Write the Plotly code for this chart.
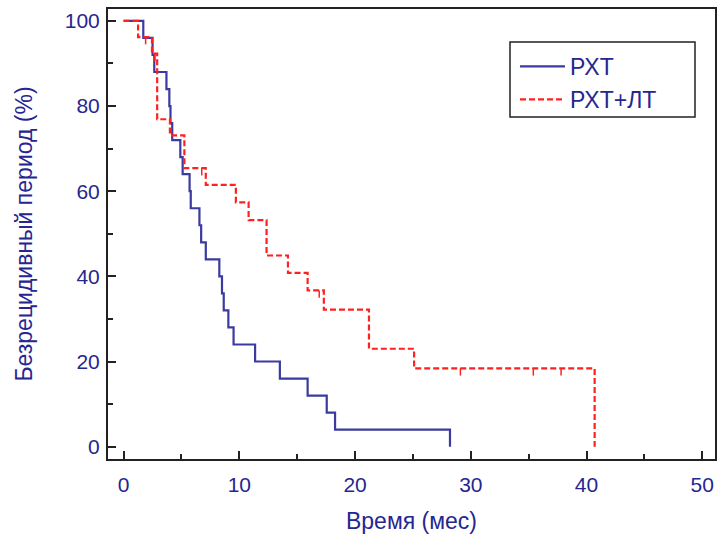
import plotly.graph_objects as go

# ---- data ----
rxt_time = [0, 1.7, 2.5, 2.65, 3.7, 3.95, 4.05, 4.2, 4.9, 5.1, 5.7, 5.8, 6.55, 6.7, 7.1,
            8.27, 8.5, 8.65, 9.05, 9.5, 11.36, 13.5, 15.9, 17.55, 18.27, 28.2]
rxt_surv = [100, 96, 92, 88, 84, 80, 76, 72, 68, 64, 60, 56, 52, 48, 44,
            40, 36, 32, 28, 24, 20, 16, 12, 8, 4, 0]

rxtlt_time = [0, 1.25, 2.45, 2.9, 4.0, 5.25, 7.1, 9.7, 10.8, 12.35, 14.2, 15.9, 17.3, 21.2, 25.1, 40.7]
rxtlt_surv = [100, 96.2, 92.3, 76.9, 73.1, 65.4, 61.5, 57.4, 53.2, 44.9, 40.8, 36.7, 32.2, 23.0, 18.4, 0]

rxtlt_cens_time = [1.9, 2.7, 6.75, 16.9, 29.1, 35.4, 37.8]
rxtlt_cens_surv = [96.2, 92.3, 65.4, 36.7, 18.4, 18.4, 18.4]

x_ticks = [0, 10, 20, 30, 40, 50]
y_ticks = [0, 20, 40, 60, 80, 100]

series_names = ["РХТ", "РХТ+ЛТ"]
x_title = "Время (мес)"
y_title = "Безрецидивный период (%)"

BLUE = "#3a3aa0"
RED = "#ff2020"
TXT = "#262690"
FONT = "Liberation Sans, Arial, sans-serif"

W, H = 718, 535
L, T, R = 108, 9, 3
PLOT_W = W - L - R
PLOT_H = 450
B = H - T - PLOT_H

fig = go.Figure()

fig.add_trace(go.Scatter(
    x=rxt_time, y=rxt_surv, mode="lines", line=dict(shape="hv", color=BLUE, width=2.2),
    name=series_names[0]))
fig.add_trace(go.Scatter(
    x=rxtlt_time, y=rxtlt_surv, mode="lines",
    line=dict(shape="hv", color=RED, width=2.2, dash="6px,3px"),
    name=series_names[1]))

# censor ticks (short downward marks)
cx, cy = [], []
for t, s in zip(rxtlt_cens_time, rxtlt_cens_surv):
    cx += [t, t, None]
    cy += [s, s - 1.7, None]
fig.add_trace(go.Scatter(x=cx, y=cy, mode="lines", line=dict(color=RED, width=1.5),
                         showlegend=False, hoverinfo="skip"))

axis_common = dict(
    showgrid=False, zeroline=False, showline=True, linecolor="#222", linewidth=2,
    mirror=True, ticks="inside", ticklen=8, tickwidth=2, tickcolor="#222",
    tickfont=dict(family=FONT, size=21, color=TXT), automargin=False,
)

fig.update_xaxes(range=[-1.35, 51.1], tickvals=x_ticks,
                 minor=dict(dtick=5, tick0=0, ticks="inside", ticklen=5, tickwidth=1.5, tickcolor="#222"),
                 title=dict(text=x_title, font=dict(family=FONT, size=23, color=TXT), standoff=18),
                 ticklabelstandoff=6,
                 **axis_common)
fig.update_yaxes(range=[-2.9, 102.8], tickvals=y_ticks,
                 minor=dict(dtick=10, tick0=0, ticks="inside", ticklen=5, tickwidth=1.5, tickcolor="#222"),
                 title=dict(text=y_title, font=dict(family=FONT, size=23, color=TXT), standoff=26),
                 ticklabelstandoff=2,
                 **axis_common)

# legend box (page pixels 510..695 x 42..117)
fig.add_shape(type="rect", xref="paper", yref="paper",
              x0=(510 - L) / PLOT_W, x1=(695 - L) / PLOT_W,
              y0=1 - (117 - T) / PLOT_H, y1=1 - (42 - T) / PLOT_H,
              line=dict(color="#222", width=1.5), fillcolor="rgba(0,0,0,0)", layer="above")

fig.update_layout(
    width=W, height=H,
    margin=dict(l=L, r=R, t=T, b=B),
    paper_bgcolor="white", plot_bgcolor="white",
    showlegend=True,
    legend=dict(x=(515 - L) / PLOT_W, y=1 - (45 - T) / PLOT_H, xanchor="left", yanchor="top",
                bgcolor="rgba(0,0,0,0)", borderwidth=0,
                font=dict(family=FONT, size=23, color=TXT),
                traceorder="normal", itemwidth=45),
)

fig.write_html(
    "out.html",
    config={"displayModeBar": False},
    post_script="document.body.style.margin='0';document.documentElement.style.overflow='hidden';",
)
